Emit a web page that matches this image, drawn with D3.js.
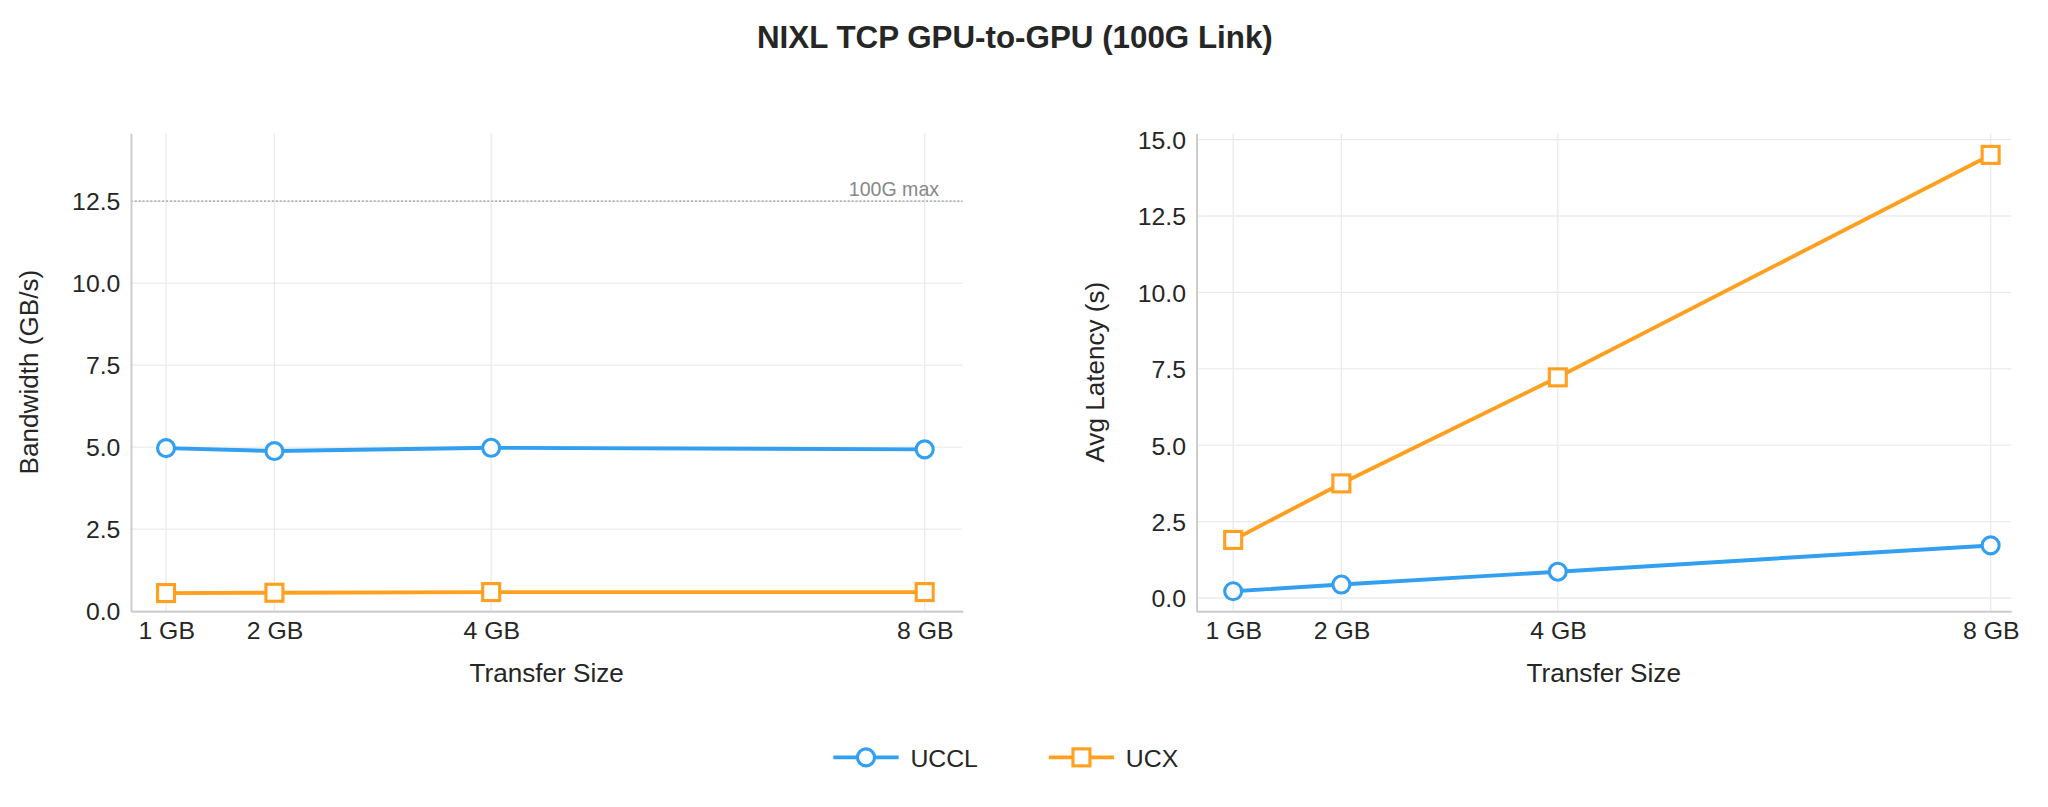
<!DOCTYPE html>
<html>
<head>
<meta charset="utf-8">
<script src="https://cdn.jsdelivr.net/npm/d3@7"></script>
<style>
  body { margin: 0; background: #fff; }
  text { font-family: "Liberation Sans", Arial, sans-serif; fill: #262626; }
</style>
</head>
<body>
<script>
// Datos
const sizes = [1, 2, 4, 8];
const sizeLabels = ["1 GB", "2 GB", "4 GB", "8 GB"];
const bwUCCL = [4.97, 4.88, 4.98, 4.93];
const bwUCX = [0.55, 0.56, 0.58, 0.58];
const latUCCL = [0.22, 0.44, 0.86, 1.72];
const latUCX = [1.9, 3.75, 7.22, 14.5];
const bwTicks = [0, 2.5, 5, 7.5, 10, 12.5];
const latTicks = [0, 2.5, 5, 7.5, 10, 12.5, 15];
const BLUE = "#339ff0";
const ORANGE = "#ffa020";

const svg = d3.select("body").append("svg")
  .attr("width", 2048).attr("height", 807)
  .attr("viewBox", "0 0 1568 618");

svg.append("text").attr("x", 777).attr("y", 37).attr("text-anchor", "middle")
  .attr("font-size", 24).attr("font-weight", "bold").text("NIXL TCP GPU-to-GPU (100G Link)");

function panel(cfg) {
  const x = d3.scaleLinear().domain(cfg.xDomain).range([cfg.left, cfg.right]);
  const y = d3.scaleLinear().domain(cfg.yDomain).range([468, 102]);
  const g = svg.append("g");

  // rejilla
  g.selectAll(".gy").data(cfg.yTicks).join("line")
    .attr("x1", cfg.left).attr("x2", cfg.right)
    .attr("y1", d => y(d)).attr("y2", d => y(d))
    .attr("stroke", "#ebebeb");
  g.selectAll(".gx").data(sizes).join("line")
    .attr("y1", 102).attr("y2", 468)
    .attr("x1", d => x(d)).attr("x2", d => x(d))
    .attr("stroke", "#ebebeb");

  if (cfg.maxLine) {
    g.append("line").attr("x1", cfg.left).attr("x2", cfg.right)
      .attr("y1", y(12.5)).attr("y2", y(12.5))
      .attr("stroke", "#999").attr("stroke-dasharray", "1.5,1.5");
    g.append("text").attr("x", cfg.right - 18).attr("y", y(12.5) - 4)
      .attr("text-anchor", "end").attr("font-size", 15).style("fill", "#888").text("100G max");
  }

  // ejes
  const ax = g.append("g").attr("transform", "translate(0,468)")
    .call(d3.axisBottom(x).tickValues(sizes).tickFormat((d, i) => sizeLabels[i]).tickSize(0).tickPadding(8));
  const ay = g.append("g").attr("transform", `translate(${cfg.left},0)`)
    .call(d3.axisLeft(y).tickValues(cfg.yTicks).tickFormat(d3.format(".1f")).tickSize(0).tickPadding(8));
  [ax, ay].forEach(a => {
    a.select(".domain").attr("stroke", "#cccccc").attr("stroke-width", 1.5);
    a.selectAll("text").attr("font-size", 19).style("fill", "#262626").attr("font-family", null);
  });
  ay.selectAll("text").attr("dy", "0.35em");

  g.append("text").attr("x", (cfg.left + cfg.right) / 2).attr("y", 522)
    .attr("text-anchor", "middle").attr("font-size", 20).text("Transfer Size");
  g.append("text").attr("transform", `translate(${cfg.left - 71},285) rotate(-90)`)
    .attr("text-anchor", "middle").attr("font-size", 20).text(cfg.yLabel);

  const line = d3.line().x((d, i) => x(sizes[i])).y(d => y(d));
  [[cfg.a, BLUE, "circle"], [cfg.b, ORANGE, "square"]].forEach(([vals, col, shape]) => {
    g.append("path").datum(vals).attr("d", line).attr("fill", "none")
      .attr("stroke", col).attr("stroke-width", 3);
    if (shape === "circle") {
      g.selectAll(null).data(vals).join("circle")
        .attr("cx", (d, i) => x(sizes[i])).attr("cy", d => y(d)).attr("r", 6.5)
        .attr("fill", "#fff").attr("stroke", col).attr("stroke-width", 2.4);
    } else {
      g.selectAll(null).data(vals).join("rect")
        .attr("x", (d, i) => x(sizes[i]) - 6.5).attr("y", d => y(d) - 6.5)
        .attr("width", 13).attr("height", 13)
        .attr("fill", "#fff").attr("stroke", col).attr("stroke-width", 2.4);
    }
  });
}

panel({ left: 100, right: 737, xDomain: [0.675, 8.35], yDomain: [0, 14.57],
  yTicks: bwTicks, yLabel: "Bandwidth (GB/s)", a: bwUCCL, b: bwUCX, maxLine: true });
panel({ left: 916, right: 1540, xDomain: [0.66, 8.19], yDomain: [-0.43, 15.21],
  yTicks: latTicks, yLabel: "Avg Latency (s)", a: latUCCL, b: latUCX, maxLine: false });

// leyenda
const legend = [["UCCL", BLUE, "circle", 638], ["UCX", ORANGE, "square", 803]];
legend.forEach(([name, col, shape, lx]) => {
  svg.append("line").attr("x1", lx).attr("x2", lx + 50).attr("y1", 580).attr("y2", 580)
    .attr("stroke", col).attr("stroke-width", 3);
  if (shape === "circle") {
    svg.append("circle").attr("cx", lx + 25).attr("cy", 580).attr("r", 6.5)
      .attr("fill", "#fff").attr("stroke", col).attr("stroke-width", 2.4);
  } else {
    svg.append("rect").attr("x", lx + 18.5).attr("y", 573.5).attr("width", 13).attr("height", 13)
      .attr("fill", "#fff").attr("stroke", col).attr("stroke-width", 2.4);
  }
  svg.append("text").attr("x", lx + 59).attr("y", 587).attr("font-size", 19).text(name);
});
</script>
</body>
</html>
